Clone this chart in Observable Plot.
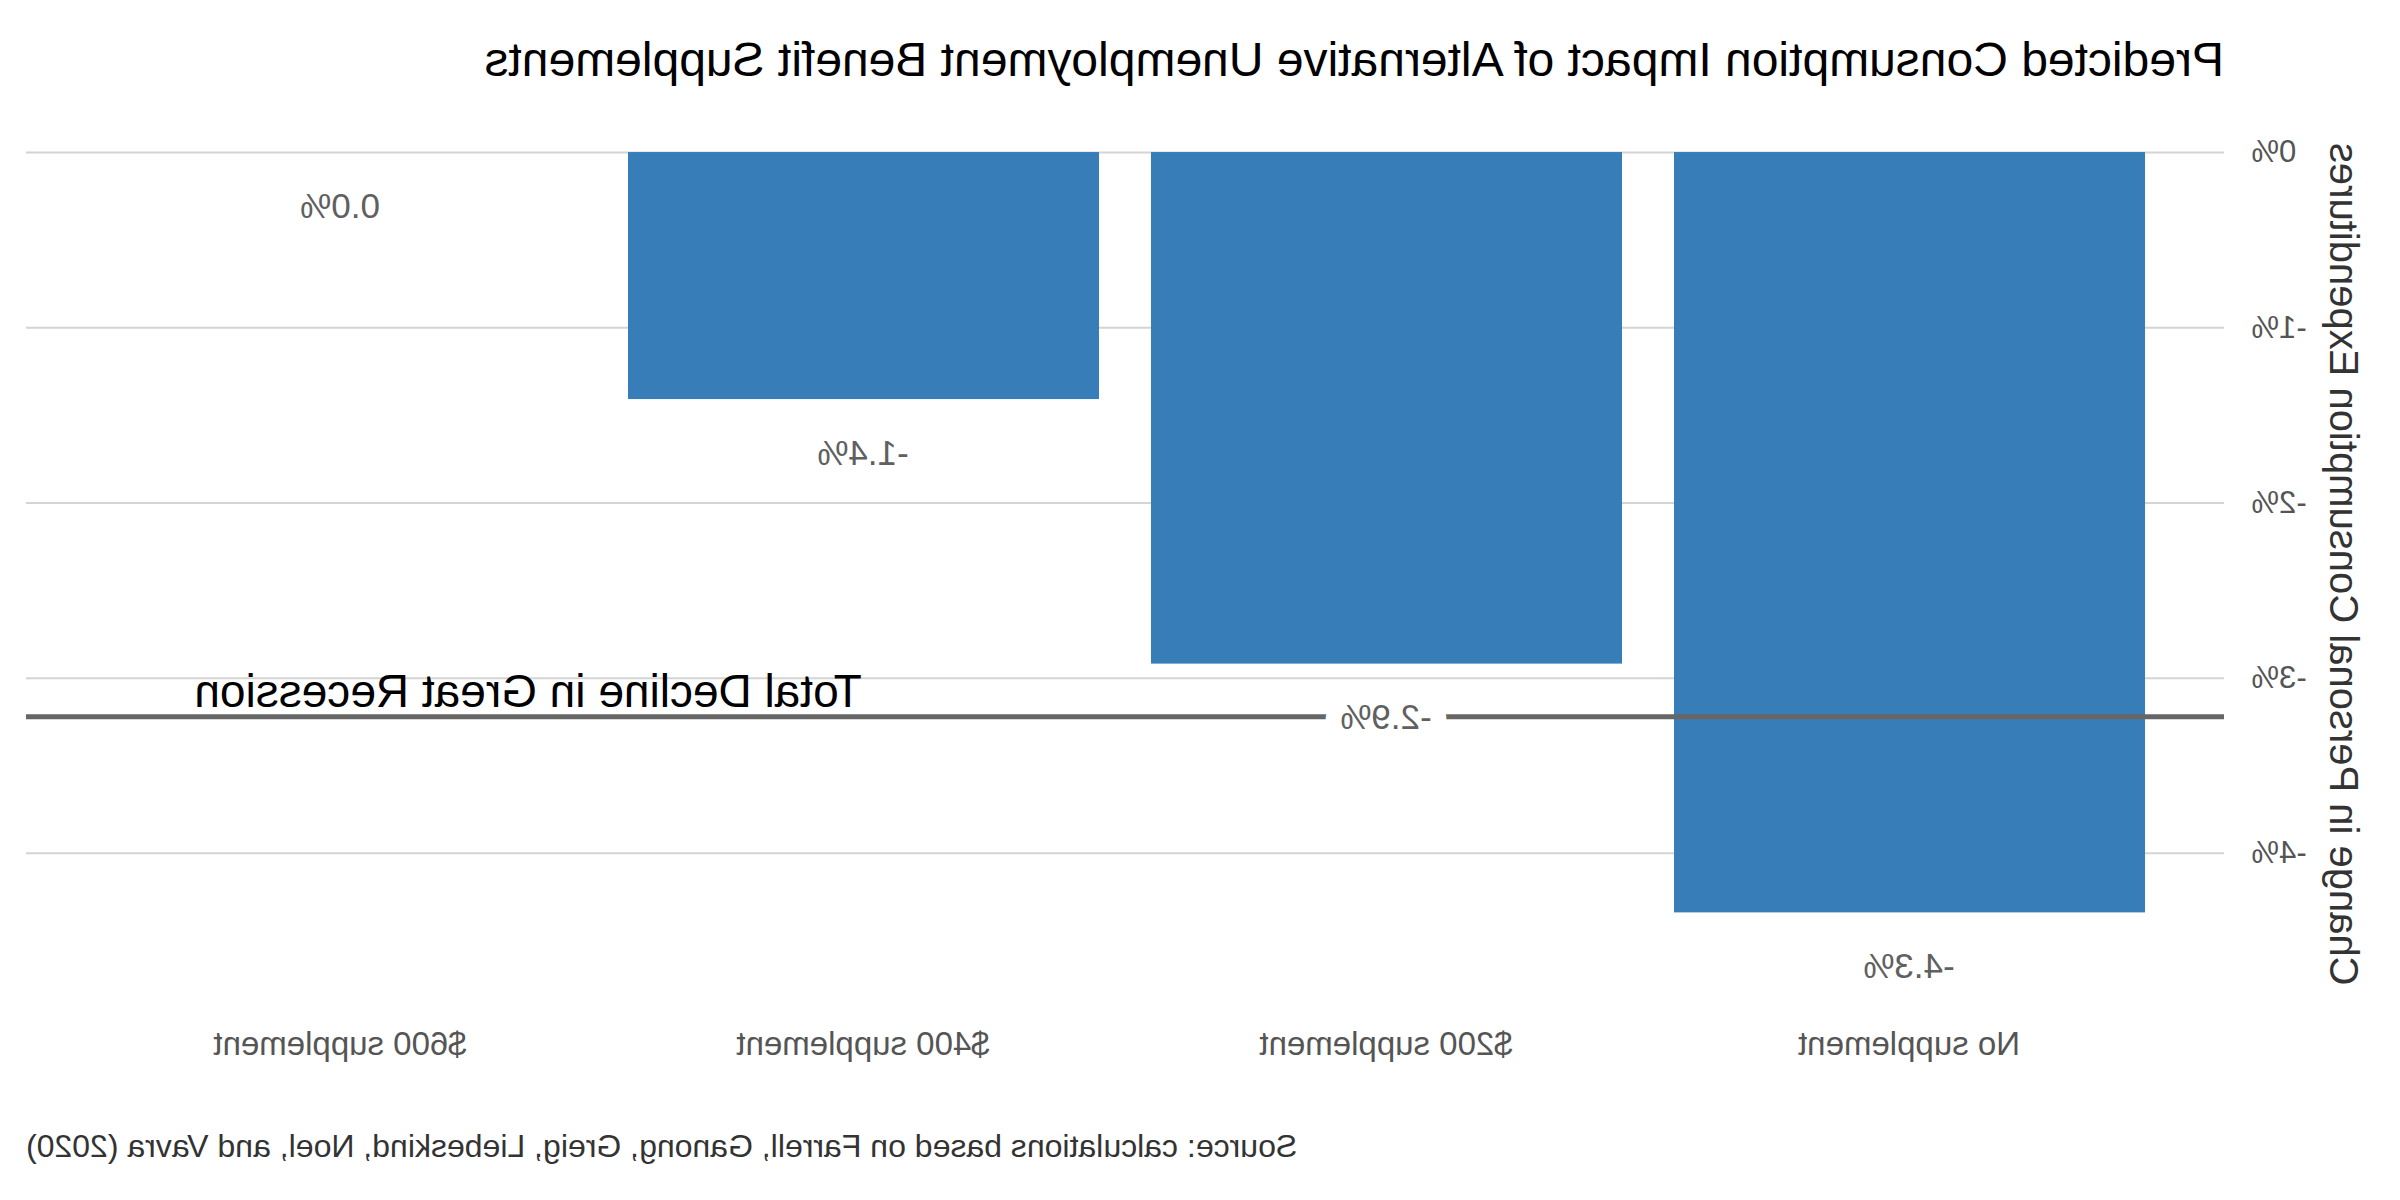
<!DOCTYPE html>
<html><head><meta charset="utf-8">
<script src="https://cdn.jsdelivr.net/npm/d3@7"></script>
<script src="https://cdn.jsdelivr.net/npm/@observablehq/plot@0.6"></script>
<style>
body{margin:0;background:#fff;}
#wrap{position:relative;width:2400px;height:1200px;transform:scaleX(-1);transform-origin:center;font-family:"Liberation Sans",Arial,sans-serif;overflow:hidden;}
#title{position:absolute;left:176px;top:36px;font-size:48px;line-height:48px;color:#000;white-space:nowrap;}
#chart{position:absolute;left:0;top:100px;}
#caption{position:absolute;right:26px;top:1130px;font-size:32px;line-height:32px;color:#333;white-space:nowrap;}
</style></head><body>
<div id="wrap"><div id="title"></div><div id="chart"></div><div id="caption"></div></div>
<script>
const categories = ["No supplement", "$200 supplement", "$400 supplement", "$600 supplement"];
const values = [-4.34, -2.92, -1.41, 0.0];
const yTicks = [0, -1, -2, -3, -4];
const recessionDecline = -3.22;
const recessionLabel = "Total Decline in Great Recession";
const titleText = "Predicted Consumption Impact of Alternative Unemployment Benefit Supplements";
const yLabel = "Change in Personal Consumption Expenditures";
const captionText = "Source: calculations based on Farrell, Ganong, Greig, Liebeskind, Noel, and Vavra (2020)";

const data = categories.map((c, i) => ({category: c, value: values[i]}));
const annotation = [{category: categories[3], value: recessionDecline, label: recessionLabel}];

document.getElementById("title").textContent = titleText;
document.getElementById("caption").textContent = captionText;

const chart = Plot.plot({
  width: 2400,
  height: 981,
  marginTop: 17,
  marginBottom: 70.5,
  marginLeft: 176,
  marginRight: 26,
  style: {fontFamily: "'Liberation Sans', Arial, sans-serif", background: "white"},
  x: {domain: categories, paddingInner: 0.1, paddingOuter: 0.15, label: null},
  y: {domain: [-4.9, 0.2], label: null},
  marks: [
    Plot.gridY(yTicks, {stroke: "#d4d4d4", strokeOpacity: 1, strokeWidth: 2}),
    Plot.axisY(yTicks, {tickSize: 0, tickPadding: 28, tickFormat: d => `${d}%`, fontSize: 31, color: "#555", label: null}),
    Plot.axisX({tickSize: 0, tickPadding: 21, fontSize: 33, color: "#555", label: null}),
    Plot.barY(data, {x: "category", y: "value", fill: "#377eb8"}),
    Plot.ruleY([recessionDecline], {stroke: "#666666", strokeWidth: 5}),
    Plot.text(data, {x: "category", y: "value", text: d => d.value.toFixed(1) + "%", dy: 54, fontSize: 35, fill: "#606060", stroke: "white", strokeWidth: 32, lineAnchor: "middle"}),
    Plot.text(annotation, {x: "category", y: "value", text: "label", dx: -188, dy: -10, fontSize: 46, fill: "#000", lineAnchor: "bottom", textAnchor: "middle"}),
    Plot.text([yLabel], {frameAnchor: "left", rotate: -90, dx: -119, fontSize: 40, fill: "#333", lineAnchor: "middle", textAnchor: "middle"})
  ]
});
document.getElementById("chart").appendChild(chart);
</script>
</body></html>
